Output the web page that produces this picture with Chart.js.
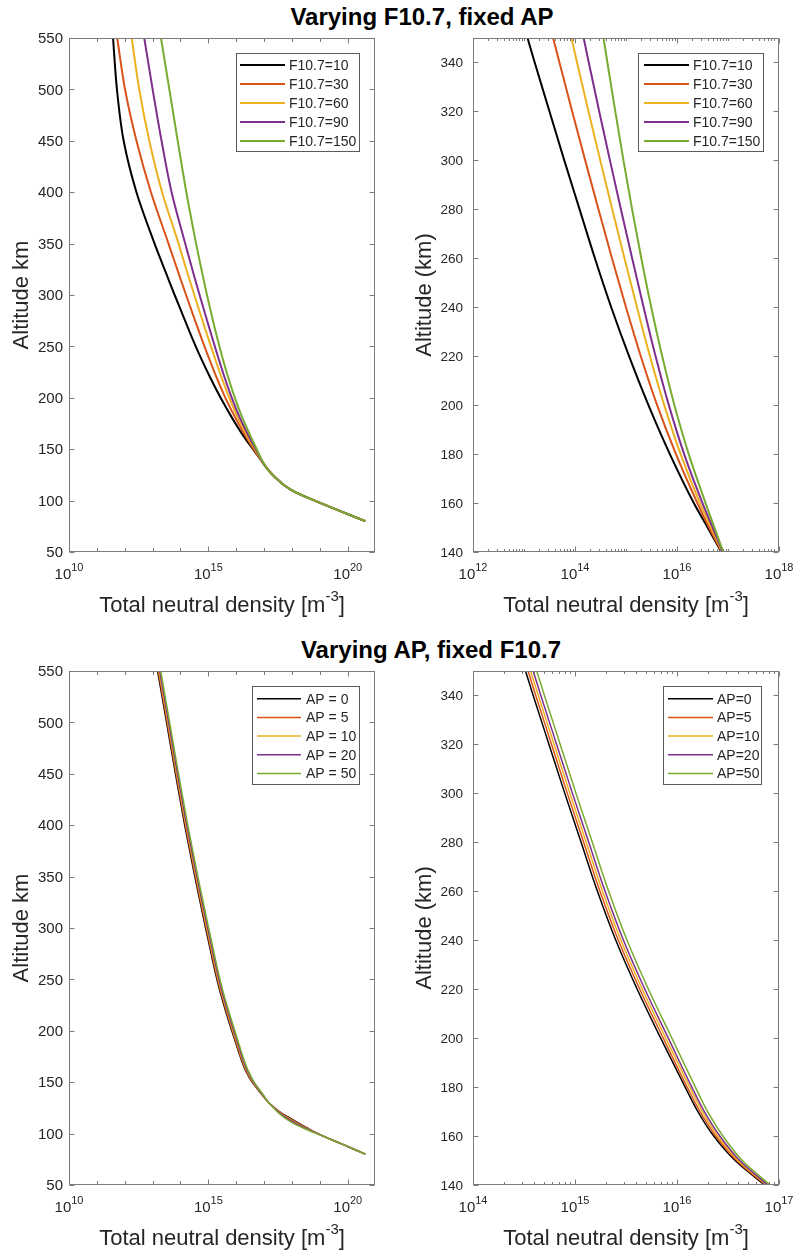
<!DOCTYPE html>
<html>
<head>
<meta charset="utf-8">
<script src="https://cdn.jsdelivr.net/npm/chart.js@4.4.1/dist/chart.umd.min.js"></script>
<style>
  body { margin: 0; background: #fff; }
  #page { position: relative; width: 796px; height: 1254px; overflow: hidden; }
  canvas { position: absolute; }
  .ttl { position: absolute; left: 0; text-align: center; font: bold 24px "Liberation Sans", Arial, sans-serif; line-height: 28px; color: #000; }
</style>
</head>
<body>
<div id="page">
  <div class="ttl" style="top:3px;width:844px">Varying F10.7, fixed AP</div>
  <div class="ttl" style="top:636px;width:862px">Varying AP, fixed F10.7</div>
  <canvas id="c1" width="398" height="627" style="left:0;top:0"></canvas>
  <canvas id="c2" width="398" height="627" style="left:398px;top:0"></canvas>
  <canvas id="c3" width="398" height="627" style="left:0;top:627px"></canvas>
  <canvas id="c4" width="398" height="627" style="left:398px;top:627px"></canvas>
</div>
<script>
// altitude grid (km) and log10 of total neutral density (m^-3)
const altF = [80, 90, 100, 105, 110, 115, 120, 130, 140, 150, 160, 180, 200, 220, 240, 260, 280, 300, 320, 340, 350, 400, 450, 500, 550];
const f107_10  = [20.63, 19.71, 18.81, 18.37, 18.00, 17.72, 17.50, 17.14, 16.87, 16.60, 16.33, 15.86, 15.44, 15.06, 14.71, 14.39, 14.09, 13.79, 13.50, 13.21, 13.07, 12.42, 11.96, 11.72, 11.58];
const f107_30  = [20.63, 19.71, 18.81, 18.37, 18.00, 17.72, 17.50, 17.14, 16.88, 16.63, 16.40, 15.98, 15.61, 15.29, 15.00, 14.725, 14.46, 14.20, 13.945, 13.695, 13.57, 12.94, 12.42, 12.01, 11.73];
const f107_60  = [20.63, 19.71, 18.81, 18.37, 18.00, 17.72, 17.50, 17.14, 16.89, 16.67, 16.45, 16.07, 15.75, 15.47, 15.215, 14.97, 14.73, 14.495, 14.265, 14.04, 13.93, 13.34, 12.88, 12.52, 12.25];
const f107_90  = [20.63, 19.71, 18.81, 18.37, 18.00, 17.72, 17.50, 17.14, 16.90, 16.70, 16.50, 16.14, 15.84, 15.58, 15.345, 15.12, 14.90, 14.685, 14.475, 14.27, 14.17, 13.68, 13.32, 13.00, 12.70];
const f107_150 = [20.63, 19.71, 18.81, 18.37, 18.00, 17.72, 17.50, 17.14, 16.91, 16.735, 16.56, 16.23, 15.95, 15.71, 15.495, 15.30, 15.12, 14.95, 14.79, 14.635, 14.56, 14.21, 13.90, 13.60, 13.30];

const altA = [80, 90, 100, 105, 110, 115, 120, 130, 140, 150, 160, 170, 180, 200, 220, 240, 260, 280, 300, 320, 340, 350, 400, 450, 500, 550];
const ap_0  = [20.63, 19.78, 18.93, 18.58, 18.25, 17.93, 17.62, 17.17, 16.86, 16.57, 16.36, 16.205, 16.08, 15.84, 15.61, 15.40, 15.22, 15.06, 14.90, 14.745, 14.59, 14.515, 14.15, 13.82, 13.50, 13.18];
const ap_5  = [20.63, 19.78, 18.92, 18.55, 18.21, 17.89, 17.60, 17.17, 16.87, 16.585, 16.38, 16.225, 16.10, 15.865, 15.635, 15.425, 15.245, 15.085, 14.925, 14.77, 14.615, 14.54, 14.175, 13.845, 13.525, 13.205];
const ap_10 = [20.63, 19.78, 18.91, 18.52, 18.17, 17.85, 17.58, 17.17, 16.88, 16.60, 16.40, 16.248, 16.125, 15.89, 15.66, 15.45, 15.27, 15.11, 14.95, 14.795, 14.64, 14.565, 14.20, 13.87, 13.55, 13.23];
const ap_20 = [20.63, 19.78, 18.90, 18.49, 18.13, 17.81, 17.56, 17.17, 16.89, 16.615, 16.42, 16.268, 16.145, 15.915, 15.685, 15.475, 15.295, 15.135, 14.975, 14.82, 14.665, 14.59, 14.225, 13.895, 13.575, 13.255];
const ap_50 = [20.63, 19.78, 18.88, 18.44, 18.05, 17.75, 17.52, 17.17, 16.91, 16.64, 16.45, 16.30, 16.18, 15.95, 15.72, 15.51, 15.33, 15.17, 15.01, 14.855, 14.70, 14.625, 14.26, 13.93, 13.61, 13.29];

const f107Labels = ['F10.7=10', 'F10.7=30', 'F10.7=60', 'F10.7=90', 'F10.7=150'];
const apLabelsL = ['AP = 0', 'AP = 5', 'AP = 10', 'AP = 20', 'AP = 50'];
const apLabelsR = ['AP=0', 'AP=5', 'AP=10', 'AP=20', 'AP=50'];
const colors = ['#000000', '#D95319', '#EDB120', '#7E2F8E', '#77AC30'];

// tick values
const yTicksWide = [50, 100, 150, 200, 250, 300, 350, 400, 450, 500, 550];
const yTicksZoom = [140, 160, 180, 200, 220, 240, 260, 280, 300, 320, 340];
const xMajorWide = [10, 15, 20];      // exponents
const xMajorF = [12, 14, 16, 18];
const xMajorAP = [14, 15, 16, 17];

const FONT = '"Liberation Sans", Arial, sans-serif';
const AXIS = '#7a7a7a';
const TXT = '#262626';

function minorDecades(lo, hi, majors) {
  const out = [];
  for (let e = lo; e <= hi; e++) if (!majors.includes(e)) out.push(Math.pow(10, e));
  return out;
}
function minorLog(lo, hi) {
  const out = [];
  for (let e = lo; e < hi; e++) {
    for (let k = 2; k <= 9; k++) out.push(k * Math.pow(10, e));
    if (e > lo) out.push(Math.pow(10, e));
  }
  return out;
}

const axisBox = {
  id: 'axisBox',
  afterDraw(chart, args, o) {
    const ctx = chart.ctx, a = chart.chartArea;
    const xs = chart.scales.x, ys = chart.scales.y;
    const L = Math.round(a.left) + 0.5, R = Math.round(a.right) - 0.5;
    const T = Math.round(a.top) + 0.5, B = Math.round(a.bottom) - 0.5;
    ctx.save();
    ctx.strokeStyle = AXIS;
    ctx.lineWidth = 1;
    ctx.strokeRect(L, T, R - L, B - T);
    ctx.beginPath();
    o.yTicks.forEach(v => {
      const y = Math.round(ys.getPixelForValue(v)) + 0.5;
      ctx.moveTo(L, y); ctx.lineTo(L + 5, y);
      ctx.moveTo(R, y); ctx.lineTo(R - 5, y);
    });
    o.xMajor.forEach(e => {
      const x = Math.round(xs.getPixelForValue(Math.pow(10, e))) + 0.5;
      ctx.moveTo(x, B); ctx.lineTo(x, B - 5);
      ctx.moveTo(x, T); ctx.lineTo(x, T + 5);
    });
    o.xMinor.forEach(v => {
      const x = Math.round(xs.getPixelForValue(v)) + 0.5;
      if (x <= L + 1 || x >= R - 1) return;
      ctx.moveTo(x, B); ctx.lineTo(x, B - o.minorLen);
      ctx.moveTo(x, T); ctx.lineTo(x, T + o.minorLen);
    });
    ctx.stroke();

    // y tick labels
    ctx.fillStyle = TXT;
    ctx.font = o.yFont + 'px ' + FONT;
    ctx.textAlign = 'right';
    ctx.textBaseline = 'middle';
    o.yTicks.forEach(v => ctx.fillText(String(v), a.left - o.yGap, ys.getPixelForValue(v) + 1));

    // x tick labels 10^n
    ctx.textBaseline = 'alphabetic';
    ctx.textAlign = 'left';
    o.xMajor.forEach(e => {
      const x = xs.getPixelForValue(Math.pow(10, e));
      ctx.font = '15px ' + FONT;
      const wb = ctx.measureText('10').width;
      ctx.font = '11px ' + FONT;
      const we = ctx.measureText(String(e)).width;
      const x0 = x - (wb + we) / 2;
      ctx.font = '15px ' + FONT;
      ctx.fillText('10', x0, a.bottom + 27);
      ctx.font = '11px ' + FONT;
      ctx.fillText(String(e), x0 + wb, a.bottom + 19);
    });

    // x title with superscript
    const cx = (a.left + a.right) / 2;
    const t1 = 'Total neutral density [m', t2 = '-3', t3 = ']';
    ctx.font = '22px ' + FONT;
    const w1 = ctx.measureText(t1).width, w3 = ctx.measureText(t3).width;
    ctx.font = '15px ' + FONT;
    const w2 = ctx.measureText(t2).width;
    const xx = cx - (w1 + w2 + w3) / 2;
    ctx.font = '22px ' + FONT;
    ctx.fillText(t1, xx, a.bottom + 60);
    ctx.font = '15px ' + FONT;
    ctx.fillText(t2, xx + w1, a.bottom + 49);
    ctx.font = '22px ' + FONT;
    ctx.fillText(t3, xx + w1 + w2, a.bottom + 60);

    // y title
    ctx.save();
    ctx.translate(a.left - o.yTitleOff, (a.top + a.bottom) / 2);
    ctx.rotate(-Math.PI / 2);
    ctx.textAlign = 'center';
    ctx.font = '22px ' + FONT;
    ctx.fillText(o.yTitle, 0, 0);
    ctx.restore();

    // legend
    const lg = o.legend;
    ctx.fillStyle = '#fff';
    ctx.fillRect(lg.x, lg.y, lg.w, lg.h);
    ctx.strokeStyle = '#5a5a5a';
    ctx.strokeRect(Math.round(lg.x) + 0.5, Math.round(lg.y) + 0.5, Math.round(lg.w), Math.round(lg.h));
    ctx.font = '14px ' + FONT;
    ctx.textAlign = 'left';
    ctx.textBaseline = 'middle';
    chart.data.datasets.forEach((ds, i) => {
      const y = lg.row0 + i * lg.step;
      ctx.strokeStyle = ds.borderColor;
      ctx.lineWidth = lg.lw;
      ctx.beginPath();
      ctx.moveTo(lg.l0, y); ctx.lineTo(lg.l1, y);
      ctx.stroke();
      ctx.fillStyle = TXT;
      ctx.fillText(ds.label, lg.tx, y + 1);
    });
    ctx.restore();
  }
};

function makePanel(id, alts, series, labels, xr, yr, lw, box, pad) {
  const datasets = series.map((s, i) => ({
    label: labels[i],
    data: alts.map((h, j) => ({ x: Math.pow(10, s[j]), y: h })),
    borderColor: colors[i],
    borderWidth: lw,
    pointRadius: 0,
    fill: false,
    cubicInterpolationMode: 'monotone',
    clip: 0,
    order: series.length - i
  }));
  new Chart(document.getElementById(id), {
    type: 'line',
    data: { datasets },
    options: {
      responsive: false,
      animation: false,
      devicePixelRatio: 1,
      indexAxis: 'y',
      layout: { padding: pad },
      plugins: { legend: { display: false }, tooltip: { enabled: false }, axisBox: box },
      scales: {
        x: { type: 'logarithmic', min: xr[0], max: xr[1], display: false },
        y: { type: 'linear', min: yr[0], max: yr[1], display: false }
      }
    },
    plugins: [axisBox]
  });
}

const fSeries = [f107_10, f107_30, f107_60, f107_90, f107_150];
const aSeries = [ap_0, ap_5, ap_10, ap_20, ap_50];

makePanel('c1', altF, fSeries, f107Labels, [1e10, 9.5e20], [50, 550], 2,
  { yTicks: yTicksWide, xMajor: xMajorWide, xMinor: minorDecades(11, 20, xMajorWide), minorLen: 3.5,
    yFont: 15, yGap: 6, yTitle: 'Altitude km', yTitleOff: 41,
    legend: { x: 236, y: 53, w: 123, h: 98, l0: 240, l1: 285, tx: 289, row0: 65, step: 19, lw: 2 } },
  { left: 69, right: 23, top: 38, bottom: 75 });

makePanel('c2', altF, fSeries, f107Labels, [1e12, 1e18], [140, 350], 2,
  { yTicks: yTicksZoom, xMajor: xMajorF, xMinor: minorLog(12, 18), minorLen: 2.5,
    yFont: 13.5, yGap: 10, yTitle: 'Altitude (km)', yTitleOff: 42,
    legend: { x: 240, y: 53, w: 125, h: 98, l0: 246, l1: 291, tx: 295, row0: 65, step: 19, lw: 2 } },
  { left: 75, right: 17, top: 38, bottom: 75 });

makePanel('c3', altA, aSeries, apLabelsL, [1e10, 9.5e20], [50, 550], 1.5,
  { yTicks: yTicksWide, xMajor: xMajorWide, xMinor: minorDecades(11, 20, xMajorWide), minorLen: 3.5,
    yFont: 15, yGap: 6, yTitle: 'Altitude km', yTitleOff: 41,
    legend: { x: 252, y: 59, w: 107, h: 98, l0: 257, l1: 301, tx: 306, row0: 71.7, step: 18.7, lw: 1.5 } },
  { left: 69, right: 23, top: 44, bottom: 69 });

makePanel('c4', altA, aSeries, apLabelsR, [1e14, 1e17], [140, 350], 1.5,
  { yTicks: yTicksZoom, xMajor: xMajorAP, xMinor: minorLog(14, 17), minorLen: 2.5,
    yFont: 13.5, yGap: 10, yTitle: 'Altitude (km)', yTitleOff: 42,
    legend: { x: 265, y: 59, w: 98, h: 98, l0: 270, l1: 315, tx: 319, row0: 71.7, step: 18.7, lw: 1.5 } },
  { left: 75, right: 17, top: 44, bottom: 69 });
</script>
</body>
</html>
